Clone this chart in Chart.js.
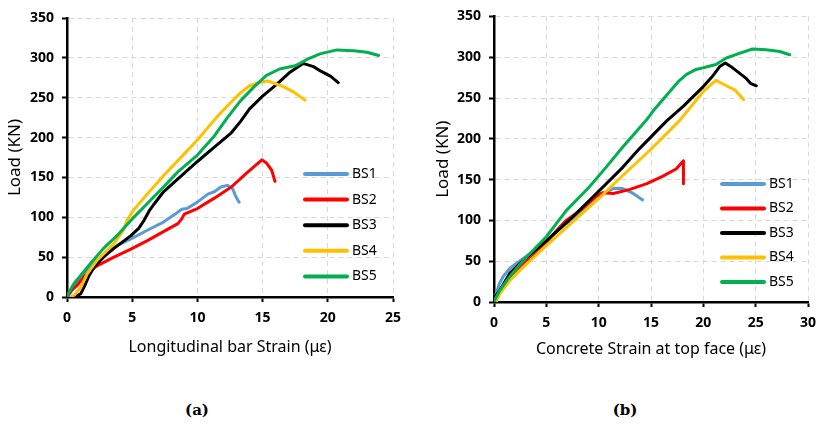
<!DOCTYPE html>
<html>
<head>
<meta charset="utf-8">
<script src="https://cdn.jsdelivr.net/npm/chart.js@4/dist/chart.umd.min.js"></script>
<style>
  body { margin: 0; background: #fff; }
  #wrap { position: relative; width: 816px; height: 427px; background: #fff; }
  canvas { position: absolute; top: 0; }
  #chartA { left: 0; }
  #chartB { left: 410px; }
  .cap { position: absolute; top: 401px; font: bold 15px "DejaVu Serif", serif; color: #000; transform: translateX(-50%); }
</style>
</head>
<body>
<div id="wrap">
  <canvas id="chartA" width="410" height="362"></canvas>
  <canvas id="chartB" width="406" height="362"></canvas>
  <div class="cap" style="left:197px">(a)</div>
  <div class="cap" style="left:625px">(b)</div>
</div>
<script>
// series names and colours
const seriesNames = ['BS1', 'BS2', 'BS3', 'BS4', 'BS5'];
const seriesColors = ['#5B9BD5', '#FF0000', '#000000', '#FFC000', '#00B050'];

// (a) longitudinal bar strain vs load  [strain, load]
const aBS1 = [[0,0],[0.3,6],[1,22],[2,41],[3,56],[3.9,65],[4.9,73],[6.2,84],[7.4,94],[8.3,104],[8.8,110],[9.2,111],[10,119],[10.8,129],[11.3,132],[11.8,138],[12.3,140],[12.7,136],[12.95,126],[13.2,119]];
const aBS2 = [[0,0],[0.3,8],[0.8,15],[1.3,25],[1.8,33],[2.3,39],[3.6,50],[4.9,60],[6.2,71],[7.4,82],[8.5,92],[8.8,98],[9.0,104],[10,111],[11.3,124],[12.6,138],[13.6,153],[14.3,163],[14.95,172],[15.3,168],[15.7,159],[15.95,145]];
const aBS3 = [[0.5,0],[1.05,4],[1.3,12],[1.7,27],[2.1,38],[2.8,50],[3.6,61],[4.9,77],[5.5,86],[5.9,96],[6.3,108],[6.7,117],[7.4,132],[8.7,151],[10,170],[11.3,188],[12.6,206],[13.3,220],[14,236],[15,252],[16.1,267],[17.1,282],[18.1,293],[18.9,289],[19.5,283],[20.2,277],[20.8,269]];
const aBS4 = [[0.3,0],[0.6,3],[1.05,12],[1.55,29],[2.3,46],[3.6,67],[4.3,83],[4.6,96],[5.1,109],[6.2,130],[7.4,152],[8.9,178],[10,197],[11.5,226],[12.5,243],[13.3,256],[14,265],[14.7,269],[15.4,271],[16.6,264],[17.4,257],[18.25,247]];
const aBS5 = [[0,0],[0.15,6],[0.54,17],[1.05,27],[1.8,42],[2.8,61],[3.9,78],[5,98],[6.2,118],[7.4,138],[8.5,157],[10,178],[11.3,202],[12.3,225],[13.3,246],[14.3,263],[15.3,278],[16.3,286],[17.5,290],[18.4,298],[19.4,305],[20.7,310],[22,309],[23,307],[23.9,303]];

// (b) concrete strain at top face vs load  [strain, load]
const bBS1 = [[0,0],[0.2,10],[0.5,22],[0.86,31],[1.5,41],[2.1,47],[3.4,59],[5,75],[6.6,93],[8.2,108],[9.8,126],[10.7,135],[11.5,139.5],[12.3,139],[13.3,133],[14.2,125]];
const bBS2 = [[0,0],[0.2,4],[1.5,30],[2.8,46],[4.4,64],[6,88],[6.9,100],[8.2,112],[9.8,130],[10.4,134],[11.4,133],[13,138],[14.6,145],[16.1,154],[17.4,163],[18.1,173],[18.1,145]];
const bBS3 = [[0,0],[0.06,6],[0.54,14],[1.5,35],[2.8,51],[5,75],[7.5,104],[10.1,137],[12.3,165],[13.9,188],[16.5,222],[18.1,240],[20,264],[20.9,277],[21.6,289],[22.1,293],[22.8,287],[23.2,283],[24.1,274],[24.5,268],[25.06,265]];
const bBS4 = [[0.2,0],[0.54,10],[1.5,26],[2.8,43],[5,69],[7.5,98],[10.1,128],[12.3,155],[14.9,186],[17.7,222],[20,258],[21.2,271.5],[22.2,265],[23,260],[23.85,248]];
const bBS5 = [[0,0],[0.06,2],[0.54,14],[1.5,31],[2.8,51],[5,80],[6.9,112],[9.1,141],[10.7,165],[12.3,190],[14.5,222],[15.2,234],[16.8,258],[17.6,270],[18.4,279],[19.3,285],[20,287],[21.2,291],[22.2,299],[23.5,305],[24.7,310],[26,309],[27.3,307],[28.25,303]];

const yTicks = [0, 50, 100, 150, 200, 250, 300, 350];

// legend drawn inside the plot, like the excel one
const insideLegend = {
  id: 'insideLegend',
  afterDraw(chart, args, opts) {
    const ctx = chart.ctx;
    ctx.save();
    ctx.font = '14px "Noto Sans"';
    ctx.textBaseline = 'middle';
    chart.data.datasets.forEach((ds, i) => {
      const y = opts.y + i * opts.gap;
      ctx.strokeStyle = ds.borderColor;
      ctx.lineWidth = 4;
      ctx.lineCap = 'round';
      ctx.beginPath();
      ctx.moveTo(opts.x, y);
      ctx.lineTo(opts.x + 42, y);
      ctx.stroke();
      ctx.fillStyle = '#000';
      ctx.fillText(ds.label, opts.x + 47, y);
    });
    ctx.restore();
  }
};

function makeDatasets(list) {
  return list.map((pts, i) => ({
    label: seriesNames[i],
    data: pts.map(p => ({ x: p[0], y: p[1] })),
    borderColor: seriesColors[i],
    backgroundColor: seriesColors[i],
    borderWidth: 3,
    pointRadius: 0,
    tension: 0,
    fill: false,
    borderJoinStyle: 'round',
    borderCapStyle: 'round',
    order: list.length - i
  }));
}

function makeChart(el, list, xMax, xTitle, p) {
  return new Chart(el, {
    type: 'line',
    data: { datasets: makeDatasets(list) },
    options: {
      responsive: false,
      animation: false,
      devicePixelRatio: 1,
      layout: { padding: { top: p.top, right: p.right, left: p.left, bottom: 0 } },
      plugins: {
        legend: { display: false },
        tooltip: { enabled: false },
        insideLegend: { x: p.legX, y: p.legY, gap: p.legGap }
      },
      scales: {
        x: {
          type: 'linear', min: 0, max: xMax,
          ticks: { stepSize: 5, color: '#000', padding: 8, font: { family: 'Noto Sans', size: 14, weight: 'bold' } },
          grid: { color: '#d9d9d9', lineWidth: 1, tickColor: '#000', tickWidth: 2, tickLength: 5, tickBorderDash: [] },
          border: { color: '#000', width: 2.5, dash: [5, 4] },
          title: { display: true, text: xTitle, color: '#000', font: { family: 'Noto Sans', size: 16 }, padding: { top: 0, bottom: p.xtPad } },
          afterFit(s) { s.height = p.xH; s.paddingRight = 0; s.paddingLeft = 0; }
        },
        y: {
          min: 0, max: 350,
          afterBuildTicks(s) { s.ticks = yTicks.map(v => ({ value: v })); },
          ticks: { color: '#000', padding: 8, font: { family: 'Noto Sans', size: 14, weight: 'bold' } },
          grid: { color: '#d9d9d9', lineWidth: 1, tickColor: '#000', tickWidth: 2, tickLength: 5, tickBorderDash: [] },
          border: { color: '#000', width: 2.5, dash: [5, 4] },
          title: { display: true, text: 'Load (KN)', color: '#000', font: { family: 'Noto Sans', size: 17 }, padding: { top: 5, bottom: 0 } },
          afterFit(s) { s.width = p.yW; }
        }
      }
    },
    plugins: [insideLegend]
  });
}

makeChart(document.getElementById('chartA'), [aBS1, aBS2, aBS3, aBS4, aBS5], 25,
  'Longitudinal bar Strain (\u03bc\u03b5)',
  { top: 18, right: 17, left: 0, yW: 67, xH: 65, xtPad: 5, legX: 305, legY: 174, legGap: 25.6 });

makeChart(document.getElementById('chartB'), [bBS1, bBS2, bBS3, bBS4, bBS5], 30,
  'Concrete Strain at top face (\u03bc\u03b5)',
  { top: 15, right: 8, left: 18, yW: 66, xH: 60, xtPad: 3, legX: 312, legY: 184, legGap: 24.5 });
</script>
</body>
</html>
